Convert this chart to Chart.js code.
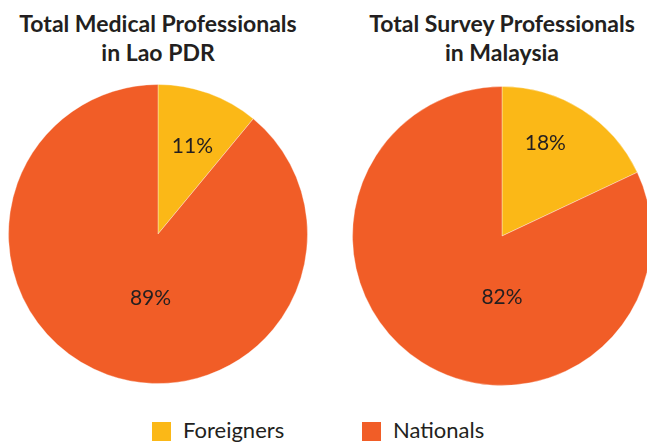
<!DOCTYPE html>
<html>
<head>
<meta charset="utf-8">
<script src="https://cdn.jsdelivr.net/npm/chart.js@4"></script>
<style>
  html, body { margin: 0; padding: 0; background: #fff; width: 647px; height: 442px; overflow: hidden; position: relative; font-family: Lato, sans-serif; color: #231f20; }
  .title { position: absolute; top: 9px; width: 360px; text-align: center; font-weight: bold; font-size: 23px; line-height: 29px; }
  .pie { position: absolute; width: 300px; height: 300px; }
  #legend { position: absolute; top: 416px; left: 0; width: 647px; height: 26px; }
  .item { position: absolute; top: 0; display: flex; align-items: center; font-size: 22px; }
  .box { width: 19px; height: 19px; margin-right: 12px; margin-top: 4px; }
</style>
</head>
<body>
<div class="title" style="left: -22px;">Total Medical Professionals<br>in Lao PDR</div>
<div class="title" style="left: 322px;">Total Survey Professionals<br>in Malaysia</div>
<div class="pie" style="left: 8px; top: 84px;"><canvas id="laoChart"></canvas></div>
<div class="pie" style="left: 352px; top: 86px;"><canvas id="myChart"></canvas></div>
<div id="legend"></div>
<script>
// Data
const categories = ["Foreigners", "Nationals"];
const laoValues = [11, 89];
const malaysiaValues = [18, 82];
const colors = ["#fbb817", "#f15d27"];

// label anchors (fraction of radius from pie centre), per slice
const laoLabelPos = [[0.23, -0.59], [-0.05, 0.43]];
const myLabelPos = [[0.29, -0.62], [0.0, 0.41]];

// draws the percentage in each slice
const pctLabels = {
  id: "pctLabels",
  afterDatasetsDraw(chart, args, opts) {
    const ctx = chart.ctx;
    const meta = chart.getDatasetMeta(0);
    const arc = meta.data[0];
    const r = arc.outerRadius;
    ctx.save();
    ctx.font = "21px Lato";
    ctx.fillStyle = "#231f20";
    ctx.textAlign = "center";
    ctx.textBaseline = "middle";
    chart.data.datasets[0].data.forEach((v, i) => {
      const p = opts.pos[i];
      ctx.fillText(v + "%", arc.x + p[0] * r, arc.y + p[1] * r);
    });
    ctx.restore();
  },
};

function createPie(id, data, labelPos) {
  return new Chart(document.getElementById(id), {
    type: "pie",
    data: {
      labels: categories,
      datasets: [
        {
          data,
          backgroundColor: colors,
          borderColor: "rgba(255,255,255,0.35)",
          borderWidth: 1,
        },
      ],
    },
    options: {
      responsive: true,
      maintainAspectRatio: false,
      animation: false,
      layout: { padding: 0 },
      plugins: {
        legend: { display: false },
        tooltip: { enabled: false },
        pctLabels: { pos: labelPos },
      },
    },
    plugins: [pctLabels],
  });
}

createPie("laoChart", laoValues, laoLabelPos);
createPie("myChart", malaysiaValues, myLabelPos);

// shared legend
const legendX = [152, 362];
const legend = document.getElementById("legend");
categories.forEach((c, i) => {
  const item = document.createElement("div");
  item.className = "item";
  item.style.left = legendX[i] + "px";
  item.innerHTML = `<span class="box" style="background:${colors[i]}"></span>${c}`;
  legend.appendChild(item);
});
</script>
</body>
</html>
